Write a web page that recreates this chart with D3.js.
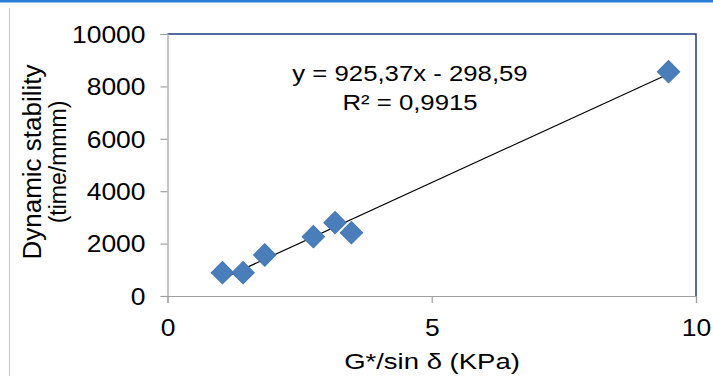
<!DOCTYPE html>
<html>
<head>
<meta charset="utf-8">
<script src="https://cdn.jsdelivr.net/npm/d3@7"></script>
<style>
  html, body { margin: 0; padding: 0; background: #fff; }
  svg { display: block; }
  text { font-family: "Liberation Sans", Arial, sans-serif; fill: #000; }
</style>
</head>
<body>
<svg id="chart" width="713" height="376"></svg>
<script>
// G*/sin δ (KPa) against dynamic stability (time/mmm)
const gStar = [1.04, 1.43, 1.84, 2.76, 3.17, 3.48, 9.48];
const stability = [889, 889, 1565, 2263, 2798, 2416, 8561];

// Linear trendline reported on the chart
const slope = 925.37;
const intercept = -298.59;
const equationLabel = "y = 925,37x - 298,59";
const r2Label = "R\u00B2 = 0,9915";

const xTicks = [0, 5, 10];
const yTicks = [0, 2000, 4000, 6000, 8000, 10000];
const xTitle = "G*/sin \u03B4 (KPa)";
const yTitle = ["Dynamic stability", "(time/mmm)"];

const svg = d3.select("#chart");
const W = 713, H = 376;
const plot = { left: 167.5, right: 696, top: 34, bottom: 296 };
const wide = 1.15;   // horizontal stretch of the chart lettering

// Page frame: blue rule along the top, light rule down the left
svg.append("rect").attr("x", 0).attr("y", 0).attr("width", W).attr("height", 2.5).attr("fill", "#2b7fd4");
svg.append("line").attr("x1", 9.5).attr("x2", 9.5).attr("y1", 8).attr("y2", H)
  .attr("stroke", "#c8c8c8").attr("stroke-width", 1);

const x = d3.scaleLinear().domain([0, 10]).range([plot.left, plot.right]);
const y = d3.scaleLinear().domain([0, 10000]).range([plot.bottom, plot.top]);

// Plot area border (top and right)
svg.append("path")
  .attr("d", `M${plot.left},${plot.top}H${plot.right}V${plot.bottom}`)
  .attr("fill", "none").attr("stroke", "#1c3c82").attr("stroke-width", 1.5);

// Axes
const yAxis = d3.axisLeft(y).tickValues(yTicks).tickSize(7).tickPadding(15).tickFormat(d3.format("d"));
const xAxis = d3.axisBottom(x).tickValues(xTicks).tickSize(7).tickPadding(17).tickFormat(d3.format("d"));

const gy = svg.append("g").attr("transform", `translate(${plot.left},0)`).call(yAxis);
const gx = svg.append("g").attr("transform", `translate(0,${plot.bottom})`).call(xAxis);

[gx, gy].forEach(g => {
  g.select(".domain").attr("stroke", "#a0a0a0").attr("stroke-width", 1.2);
  g.selectAll(".tick line").attr("stroke", "#a0a0a0").attr("stroke-width", 1.2);
  g.selectAll(".tick text").attr("font-size", 23).attr("fill", "#000")
    .style("font-family", '"Liberation Sans", Arial, sans-serif');
});
gy.selectAll(".tick text")
  .attr("dy", "0.36em")
  .attr("x", null)
  .attr("transform", `translate(-22,0) scale(${wide},1)`);
gx.selectAll(".tick text").attr("transform", `scale(${wide},1)`);

// Trendline over the span of the data
const xMin = d3.min(gStar), xMax = d3.max(gStar);
svg.append("line")
  .attr("x1", x(xMin)).attr("y1", y(slope * xMin + intercept))
  .attr("x2", x(xMax)).attr("y2", y(slope * xMax + intercept))
  .attr("stroke", "#000").attr("stroke-width", 1.2);

// Diamond markers
const diamond = d3.symbol().type(d3.symbolSquare).size(250);
svg.append("g").selectAll("path")
  .data(gStar.map((g, i) => [g, stability[i]]))
  .join("path")
  .attr("d", diamond)
  .attr("transform", d => `translate(${x(d[0])},${y(d[1])}) rotate(45)`)
  .attr("fill", "#4a7ebb")
  .attr("stroke", "#4577b4").attr("stroke-width", 1);

// Regression equation
const eq = svg.append("g").attr("transform", "translate(410,0)");
eq.append("text").attr("y", 81).attr("text-anchor", "middle")
  .attr("transform", "scale(1.17,1)")
  .attr("font-size", 22).text(equationLabel);
eq.append("text").attr("y", 110).attr("text-anchor", "middle")
  .attr("transform", "scale(1.17,1)")
  .attr("font-size", 22).text(r2Label);

// Axis titles
svg.append("text").attr("transform", "translate(432,369) scale(1.25,1)")
  .attr("text-anchor", "middle").attr("font-size", 22).text(xTitle);

const yt = svg.append("text")
  .attr("transform", `translate(41,162) rotate(-90)`)
  .attr("text-anchor", "middle").attr("font-size", 26);
yt.append("tspan").attr("x", 0).attr("dy", 0).text(yTitle[0]);
yt.append("tspan").attr("x", 0).attr("dy", 25).attr("font-size", 23).text(yTitle[1]);
</script>
</body>
</html>
